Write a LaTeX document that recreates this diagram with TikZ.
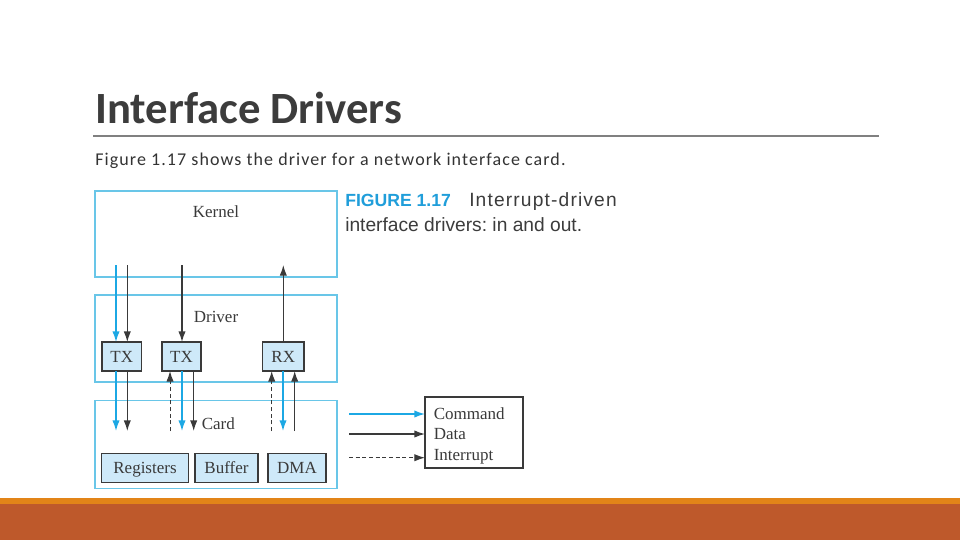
\documentclass[tikz,border=0pt]{standalone}
\usepackage{fontspec}
\setmainfont{Liberation Serif}
\newfontfamily\slidefont{Carlito}
\newfontfamily\capfont{Liberation Sans}
\usepackage{tikz}
\usetikzlibrary{arrows.meta, calc}
\frenchspacing

\definecolor{layerblue}{RGB}{105,198,232}
\definecolor{unitfill}{RGB}{206,233,249}
\definecolor{unitline}{RGB}{58,58,58}
\definecolor{cmdblue}{RGB}{28,168,228}
\definecolor{capblue}{RGB}{32,158,218}
\definecolor{titlegray}{RGB}{60,60,60}
\definecolor{bandorange}{RGB}{226,132,24}
\definecolor{bandrust}{RGB}{190,89,43}

\begin{document}
\begin{tikzpicture}[x=0.75pt, y=-0.75pt,
    layer/.style={draw=layerblue, line width=0.9pt, minimum width=181.5pt, inner sep=0pt, outer sep=0pt},
    unit/.style={draw=unitline, fill=unitfill, line width=0.9pt, minimum height=21.75pt, inner sep=0pt, outer sep=0pt,
      text height=8.8pt, text depth=0pt, font=\fontsize{12.75pt}{14pt}\selectfont, text=unitline},
    lbl/.style={font=\fontsize{12.75pt}{14pt}\selectfont, text=unitline, inner sep=0pt},
    cmd/.style={draw=cmdblue, line width=1.1pt, -{Latex[length=8pt,width=5.5pt]}},
    dat/.style={draw=unitline, line width=1pt, -{Latex[length=8pt,width=5.5pt]}},
    intr/.style={draw=unitline, line width=0.75pt, dash pattern=on 3pt off 2pt, -{Latex[length=8pt,width=5.5pt]}}]
  \useasboundingbox (0,0) rectangle (960,540);
  \fill[white] (0,0) rectangle (960,540);

  % slide frame
  \node[font=\slidefont\bfseries\fontsize{33.5pt}{40pt}\selectfont, text=titlegray, anchor=base west, inner sep=0pt] (title) at (95,123.5) {Interface Drivers};
  \draw[gray, line width=0.8pt] (93,136) -- (879,136);
  \node[font=\slidefont\addfontfeatures{LetterSpace=6}\fontsize{13.5pt}{16pt}\selectfont, text=black!80, anchor=base west, inner sep=0pt] (intro) at (95,165) {Figure 1.17 shows the driver for a network interface card.};
  \fill[bandorange] (0,497.5) rectangle (960,504);
  \fill[bandrust] (0,504) rectangle (960,540);

  % layers
  \node[layer, minimum height=64.5pt] (kernel) at (216,234) {};
  \node[layer, minimum height=65.25pt] (driver) at (216,338.5) {};
  \node[layer, minimum height=66pt] (card) at (216,444.5) {};
  \node[lbl] (kerneltxt) at (216,212) {Kernel};
  \node[lbl] (drivertxt) at (216,317) {Driver};
  \node[lbl, anchor=west] (cardtxt) at (201.5,424) {Card};

  % units
  \node[unit, minimum width=29.6pt] (tx1) at (121.75,356.5) {TX};
  \node[unit, minimum width=29.3pt] (tx2) at (181.5,356.5) {TX};
  \node[unit, minimum width=31.1pt] (rx) at (283.25,356.5) {RX};
  \node[unit, minimum width=65.25pt] (regs) at (145,467.8) {Registers};
  \node[unit, minimum width=47.25pt] (buffer) at (226.5,467.8) {Buffer};
  \node[unit, minimum width=43.5pt] (dma) at (297,467.8) {DMA};

  % kernel <-> driver
  \coordinate (k1) at (116,265);
  \coordinate (k2) at (127.3,265);
  \coordinate (k3) at (182,265);
  \coordinate (k4) at (283.3,265);
  \draw[cmd] (k1) -- (k1 |- tx1.north);
  \draw[dat] (k2) -- (k2 |- tx1.north);
  \draw[dat] (k3) -- (k3 |- tx2.north);
  \draw[dat] (k4 |- rx.north) -- (k4);

  % driver <-> card
  \coordinate (t1) at (116,431);
  \coordinate (t2) at (127.3,431);
  \coordinate (t3) at (170,431);
  \coordinate (t4) at (182,431);
  \coordinate (t5) at (193.7,431);
  \coordinate (t6) at (271.7,431);
  \coordinate (t7) at (283,431);
  \coordinate (t8) at (294.7,431);
  \draw[cmd] (t1 |- tx1.south) -- (t1);
  \draw[dat] (t2 |- tx1.south) -- (t2);
  \draw[intr] (t3) -- (t3 |- tx2.south);
  \draw[cmd] (t4 |- tx2.south) -- (t4);
  \draw[dat] (t5 |- tx2.south) -- (t5);
  \draw[intr] (t6) -- (t6 |- rx.south);
  \draw[cmd] (t7 |- rx.south) -- (t7);
  \draw[dat] (t8) -- (t8 |- rx.south);

  % caption
  \node[font=\capfont\bfseries\fontsize{13.2pt}{16pt}\selectfont, text=capblue, anchor=base west, inner sep=0pt] (capnum) at (345,206.7) {FIGURE 1.17};
  \node[font=\capfont\addfontfeatures{LetterSpace=6}\fontsize{14.4pt}{16pt}\selectfont, text=titlegray, anchor=base west, inner sep=0pt] (capline1) at (469,206.7) {Interrupt-driven};
  \node[font=\capfont\fontsize{14.4pt}{16pt}\selectfont, text=titlegray, anchor=base west, inner sep=0pt] (capline2) at (345,231) {interface drivers: in and out.};

  % legend
  \node[draw=unitline, line width=0.8pt, minimum width=73.5pt, minimum height=53.25pt, inner sep=0pt, outer sep=0pt] (legend) at (474,432.5) {};
  \node[lbl, anchor=west] (cmdtxt) at (433.5,413.5) {Command};
  \node[lbl, anchor=west] (dattxt) at (433.5,434.5) {Data};
  \node[lbl, anchor=west] (inttxt) at (433.5,456.5) {Interrupt};
  \coordinate (l1) at (349,414);
  \coordinate (l2) at (349,434);
  \coordinate (l3) at (349,457.7);
  \draw[cmd] (l1) -- (l1 -| legend.west);
  \draw[dat] (l2) -- (l2 -| legend.west);
  \draw[intr] (l3) -- (l3 -| legend.west);
\end{tikzpicture}
\end{document}
